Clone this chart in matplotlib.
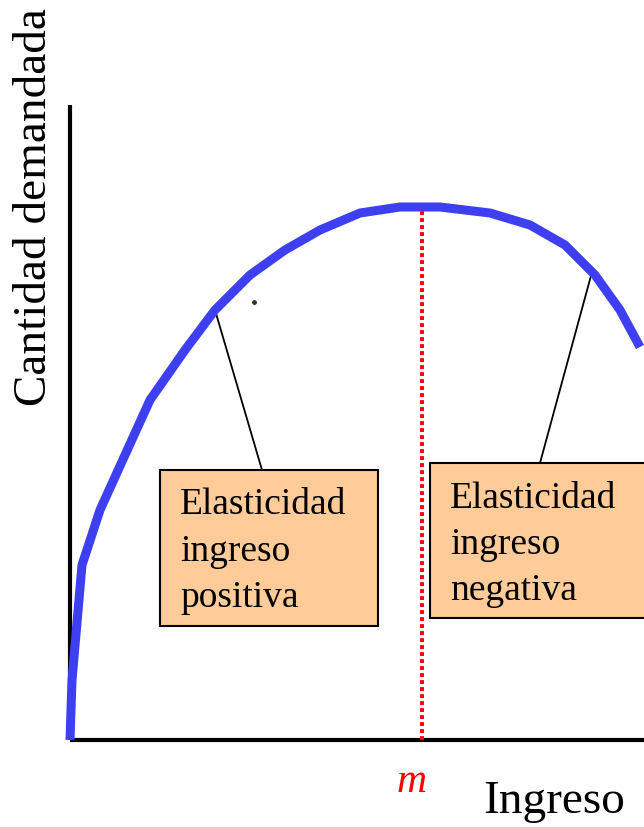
"""Curva de Engel: elasticidad ingreso positiva y negativa."""

import matplotlib

matplotlib.use("Agg")
import matplotlib.pyplot as plt
from matplotlib.patches import Rectangle

# curva (ingreso, cantidad demandada)
ingreso = [0, 2, 12, 30, 55, 80, 115, 145, 180, 215, 250, 290, 330, 370, 420, 460, 495, 525, 550, 570]
cantidad = [0, 60, 175, 230, 285, 340, 390, 430, 465, 490, 510, 527, 533, 533, 527, 515, 495, 465, 430, 393]
m_ingreso = 352
m_cantidad = 533

box_labels = ["Elasticidad\ningreso\npositiva", "Elasticidad\ningreso\nnegativa"]

plt.rcParams["font.family"] = ["Liberation Serif", "DejaVu Serif"]

fig = plt.figure(figsize=(6.44, 8.27), dpi=100)
ax = fig.add_axes([0, 0, 1, 1])
ax.set_xlim(-70, 574)
ax.set_ylim(-87, 740)
ax.axis("off")

# ejes
ax.plot([0, 0], [0, 635], color="black", lw=3, solid_capstyle="butt")
ax.plot([0, 574], [0, 0], color="black", lw=3, solid_capstyle="butt")

# linea punteada en m
ax.plot([m_ingreso, m_ingreso], [0, m_cantidad], color="#ff0000", lw=2.8,
        linestyle=(0, (1.0, 0.8)))

# curva
ax.plot(ingreso, cantidad, color="#3f3ff2", lw=6.5, solid_joinstyle="round",
        solid_capstyle="butt", zorder=3)

# lineas de las llamadas
ax.plot([145, 192], [430, 270], color="black", lw=1.3, zorder=2)
ax.plot([522, 470], [468, 277], color="black", lw=1.3, zorder=2)

# cajas
ax.add_patch(Rectangle((90, 114), 218, 156, facecolor="#ffcc99",
                       edgecolor="black", lw=1.5, zorder=4))
ax.add_patch(Rectangle((360, 122), 230, 155, facecolor="#ffcc99",
                       edgecolor="black", lw=1.5, zorder=4))
ax.text(110, 252, box_labels[0], ha="left", va="top", fontsize=27,
        linespacing=1.45, zorder=5)
ax.text(380, 259, box_labels[1], ha="left", va="top", fontsize=27,
        linespacing=1.45, zorder=5)

# punto suelto
ax.plot([184], [438], marker="o", color="#333333", ms=2.5, zorder=5)

# etiquetas
ax.text(-35, 533, "Cantidad demandada", rotation=90, ha="center", va="center",
        fontsize=34)
ax.text(484, -62, "Ingreso", ha="center", va="center", fontsize=34)
ax.text(m_ingreso - 10, -42, "m", color="#ff0000", style="italic",
        ha="center", va="center", fontsize=30)

fig.savefig("out.png", dpi=100)
